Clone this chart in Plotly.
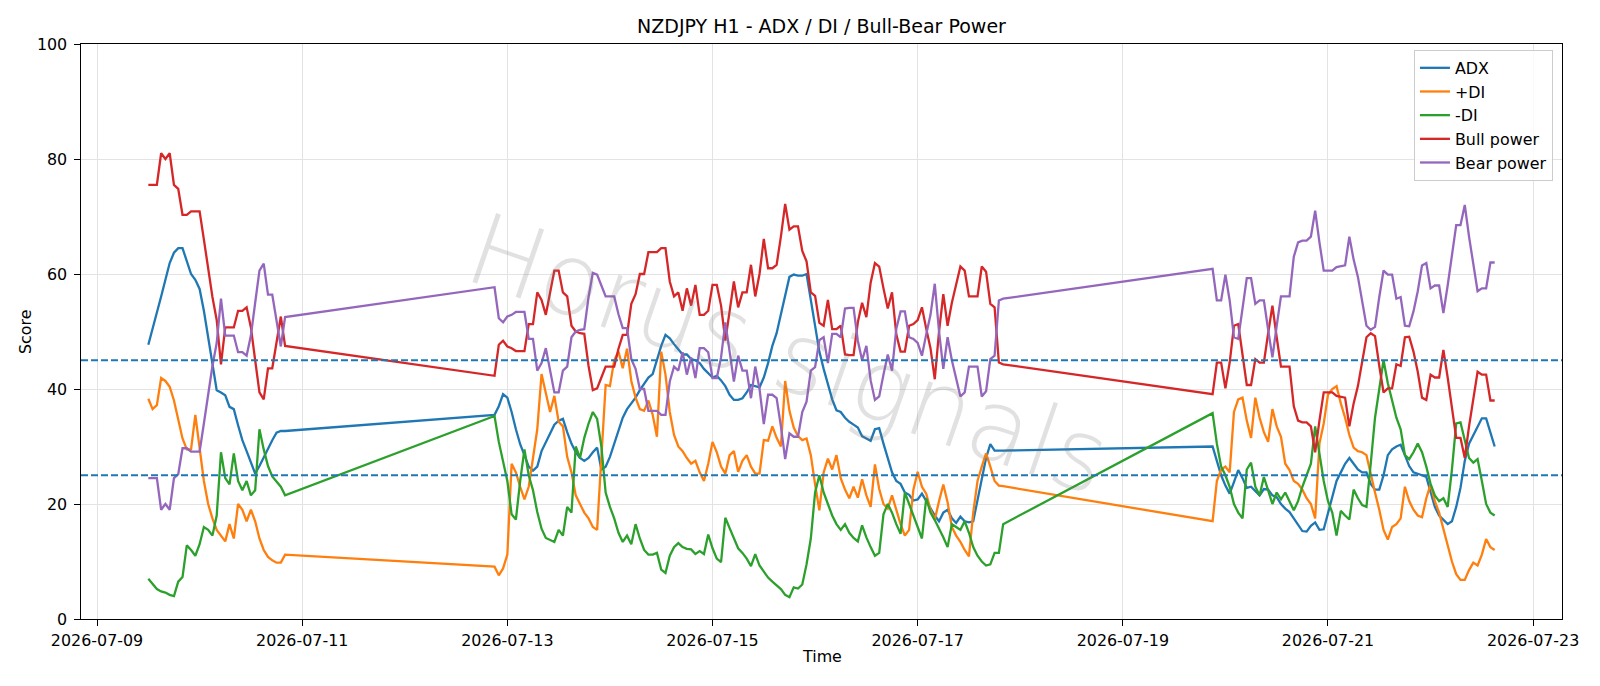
import pandas as pd
import plotly.graph_objects as go

# ---------------- data (hourly, three trading segments) ----------------
SEG1_START = "2026-07-09 12:00"
SEG2_START = "2026-07-12 21:00"
SEG3_START = "2026-07-19 21:00"

adx_1 = [47.7, 50.4, 53.2, 56.1, 59.0, 61.9, 63.7, 64.5, 64.5, 62.2,
         60.0, 59.0, 57.4, 53.6, 49.0, 44.6, 39.8, 39.4, 38.9, 36.9,
         36.5, 33.7, 31.1, 29.2, 27.2, 25.3, 26.6, 28.2, 29.8, 31.1,
         32.4, 32.7, 32.7]
pdi_1 = [38.3, 36.5, 37.2, 41.9, 41.4, 40.4, 38.0, 34.6, 31.4, 29.5,
         29.5, 35.5, 29.5, 24.0, 20.0, 17.5, 15.5, 14.5, 13.5, 16.5,
         14.0, 20.0, 19.0, 17.0, 19.0, 17.0, 14.0, 12.0, 10.8, 10.2,
         9.8, 9.8, 11.2]
mdi_1 = [7.0, 6.0, 5.2, 4.8, 4.6, 4.2, 4.0, 6.5, 7.3, 12.8,
         12.0, 11.0, 13.0, 16.0, 15.5, 14.5, 18.0, 29.0, 24.5, 23.4,
         28.8, 24.0, 22.4, 24.0, 21.5, 22.4, 33.0, 29.5, 26.6, 24.8,
         23.8, 23.0, 21.5]
bull_1 = [75.5, 75.5, 75.5, 81.0, 80.0, 81.0, 75.5, 74.8, 70.3, 70.3,
          70.9, 70.9, 70.9, 66.0, 61.0, 56.0, 52.0, 44.3, 50.7, 50.7,
          50.7, 53.6, 53.6, 54.2, 50.7, 45.0, 39.4, 38.2, 43.6, 43.6,
          48.4, 52.6, 47.5]
bear_1 = [24.5, 24.5, 24.5, 19.0, 20.0, 19.0, 24.5, 25.2, 29.7, 29.7,
          29.1, 29.1, 29.1, 34.0, 39.0, 44.0, 48.0, 55.7, 49.3, 49.3,
          49.3, 46.4, 46.4, 45.8, 49.3, 55.0, 60.6, 61.8, 56.4, 56.4,
          51.6, 47.4, 52.5]

adx_2 = [35.5, 37.0, 39.1, 38.5, 36.0, 33.0, 30.4, 28.5, 26.5, 25.8,
         26.5, 29.2, 30.8, 32.4, 33.8, 34.5, 34.8, 32.5, 30.5, 29.0,
         28.0, 27.5, 28.0, 29.0, 29.8, 26.0, 26.5, 28.2, 30.5, 33.0,
         35.0, 36.5, 37.5, 38.5, 39.8, 41.0, 42.0, 42.6, 45.0, 47.5,
         49.4, 48.8, 47.8, 46.9, 46.0, 46.0, 45.2, 45.0, 44.5, 43.5,
         42.8, 42.0, 42.3, 41.5, 40.5, 39.0, 38.1, 38.1, 38.4, 39.4,
         40.7, 40.5, 40.3, 42.0, 44.5, 47.5, 49.7, 53.0, 56.5, 59.5,
         59.9, 59.7, 59.7, 60.0, 55.5, 51.0, 46.5, 43.5, 40.8, 38.2,
         36.3, 36.0, 35.0, 34.3, 33.8, 33.3, 31.8, 31.4, 31.0, 33.0,
         33.2, 30.5, 27.8, 25.5, 24.0, 23.5, 22.0, 21.6, 20.6, 20.8,
         21.8, 20.5, 19.2, 18.0, 17.0, 18.5, 19.0, 17.5, 16.7, 17.8,
         17.0, 16.8, 17.0, 20.5, 24.5, 28.0, 30.4, 29.3, 29.3, 29.3]
pdi_2 = [9.1, 7.6, 8.8, 11.2, 27.0, 25.5, 23.0, 20.8, 23.0, 28.0,
         33.0, 42.6, 39.5, 36.0, 38.8, 34.3, 33.5, 28.2, 25.5, 21.5,
         20.0, 18.5, 17.5, 16.0, 15.5, 27.5, 40.7, 40.5, 45.0, 46.5,
         43.6, 47.0, 41.4, 38.5, 36.5, 36.2, 38.0, 35.5, 31.7, 46.5,
         42.5, 36.0, 32.0, 30.0, 29.2, 28.0, 27.0, 27.5, 25.5, 24.0,
         27.0, 30.8, 29.0, 26.5, 25.3, 28.5, 29.2, 25.6, 27.5, 28.5,
         26.5, 25.3, 25.3, 31.1, 31.0, 33.5, 31.5, 30.0, 41.4, 36.2,
         33.3, 31.8, 31.1, 31.4, 28.5, 23.4, 18.9, 25.5, 27.9, 26.0,
         28.5, 24.5, 22.5, 21.0, 23.0, 21.1, 24.3, 21.5, 19.5, 26.9,
         22.6, 20.0, 19.2, 21.5, 19.0, 16.5, 14.5, 15.5, 22.5, 25.6,
         23.0, 21.8, 19.0, 17.3, 20.5, 23.4, 20.3, 16.0, 14.5, 13.4,
         12.0, 10.9, 18.5, 24.0, 26.5, 28.8, 26.5, 24.0, 23.2, 23.1]
mdi_2 = [35.3, 30.8, 27.5, 24.0, 18.2, 17.3, 24.0, 29.5, 25.0, 22.4,
         18.6, 15.7, 14.1, 13.8, 13.4, 15.5, 14.5, 19.5, 18.5, 30.0,
         28.0, 31.5, 34.0, 36.0, 34.8, 30.0, 22.0, 19.5, 17.5, 15.0,
         13.4, 14.5, 13.0, 16.5, 14.0, 12.0, 11.2, 11.2, 11.5, 8.6,
         8.0, 11.0, 12.5, 13.2, 12.5, 12.2, 12.1, 11.3, 11.8, 11.3,
         14.7, 12.3, 10.5, 9.9, 17.6, 15.8, 14.0, 12.3, 11.5, 10.5,
         9.2, 11.3, 9.3, 8.2, 7.2, 6.5, 5.8, 5.2, 4.2, 3.8,
         5.5, 5.3, 6.0, 9.5, 14.0, 22.0, 25.0, 22.0, 20.0, 18.0,
         16.5, 15.5, 16.5, 15.0, 14.1, 13.5, 16.3, 14.2, 12.5, 11.0,
         11.5, 18.2, 20.0, 18.5, 16.5, 14.8, 22.0, 20.0, 18.2, 16.0,
         14.0, 21.0, 18.5, 17.2, 15.8, 14.2, 12.5, 16.5, 16.0, 15.5,
         17.0, 15.0, 12.5, 11.0, 10.0, 9.3, 9.5, 11.5, 11.5, 16.5]
bull_2 = [42.3, 47.7, 48.4, 47.4, 47.1, 46.6, 46.6, 46.6, 51.3, 51.3,
          56.8, 55.5, 52.9, 56.8, 60.6, 60.6, 56.8, 56.1, 51.0, 50.0,
          49.7, 49.6, 44.0, 39.8, 40.1, 42.0, 43.9, 43.9, 43.9, 47.0,
          49.4, 49.4, 54.8, 56.5, 60.0, 60.0, 63.8, 63.8, 63.8, 64.5,
          64.5, 58.7, 56.1, 56.8, 53.6, 57.5, 54.5, 58.1, 52.9, 52.9,
          53.6, 58.1, 58.1, 54.5, 48.4, 53.5, 58.7, 54.2, 56.8, 56.8,
          61.6, 56.1, 60.0, 66.1, 61.0, 61.0, 61.6, 66.5, 72.2, 67.7,
          68.3, 68.3, 64.0, 62.2, 56.8, 56.2, 51.5, 51.0, 55.5, 50.4,
          50.4, 51.0, 46.0, 45.9, 45.9, 51.6, 55.0, 52.5, 58.5, 61.9,
          61.3, 57.5, 54.0, 56.8, 49.5, 46.5, 46.5, 51.0, 51.3, 52.0,
          54.2, 50.5, 47.1, 41.7, 50.0, 56.5, 51.0, 55.0, 58.0, 61.3,
          60.6, 56.1, 56.1, 56.1, 61.3, 60.4, 54.8, 54.2, 44.6, 44.3]
bear_2 = [57.7, 52.3, 51.6, 52.6, 52.9, 53.4, 53.4, 53.4, 48.7, 48.7,
          43.2, 44.5, 47.1, 43.2, 39.4, 39.4, 43.2, 43.9, 49.0, 50.0,
          50.3, 50.4, 56.0, 60.2, 59.9, 58.0, 56.1, 56.1, 56.1, 53.0,
          50.6, 50.6, 45.2, 43.5, 40.0, 40.0, 36.2, 36.2, 36.2, 35.5,
          35.5, 41.3, 43.9, 43.2, 46.4, 42.5, 45.5, 41.9, 47.1, 47.1,
          46.4, 41.9, 41.9, 45.5, 51.6, 46.5, 41.3, 45.8, 43.2, 43.2,
          38.4, 43.9, 40.0, 33.9, 39.0, 39.0, 38.4, 33.5, 27.8, 32.3,
          31.7, 31.7, 36.0, 37.8, 43.2, 43.8, 48.5, 49.0, 44.5, 49.6,
          49.6, 49.0, 54.0, 54.1, 54.1, 48.4, 45.0, 47.5, 41.5, 38.1,
          38.7, 42.5, 46.0, 43.2, 50.5, 53.5, 53.5, 49.0, 48.7, 48.0,
          45.8, 49.5, 52.9, 58.3, 50.0, 43.5, 49.0, 45.0, 42.0, 38.7,
          39.4, 43.9, 43.9, 43.9, 38.7, 39.6, 45.2, 45.8, 55.4, 55.7]

adx_3 = [30.0, 27.5, 25.0, 23.2, 21.8, 23.8, 25.9, 24.5, 22.8, 23.0,
         22.2, 21.5, 22.6, 22.5, 21.5, 21.2, 20.0, 19.2, 18.6, 17.5,
         16.2, 15.3, 15.2, 16.2, 16.8, 15.5, 15.6, 18.5, 21.5, 24.0,
         25.5, 27.0, 28.0, 27.0, 26.0, 25.5, 25.5, 23.5, 22.5, 22.5,
         25.0, 28.5, 29.5, 30.0, 30.3, 28.5, 26.6, 25.5, 25.3, 25.0,
         24.7, 22.0, 19.5, 18.0, 17.2, 16.5, 17.0, 19.5, 22.8, 27.5,
         30.5, 32.0, 33.5, 34.9, 34.9, 32.5, 30.0]
pdi_3 = [17.0, 24.0, 26.0, 26.5, 25.5, 36.0, 38.2, 38.5, 34.5, 31.5,
         38.5, 35.0, 32.5, 30.8, 36.5, 33.5, 31.7, 27.0, 25.9, 24.0,
         23.5, 22.5, 21.0, 20.0, 17.5, 30.5, 34.0, 39.0, 40.0, 40.5,
         37.5, 35.0, 32.0, 29.8, 29.2, 29.0, 28.5, 25.0, 22.0, 19.0,
         15.5, 13.8, 16.0, 16.5, 17.5, 23.0, 20.5, 19.0, 18.0, 17.7,
         21.0, 23.4, 20.5, 18.5, 15.5, 12.5, 10.0, 7.8, 6.8, 6.8,
         8.5, 9.8, 9.3, 11.2, 13.9, 12.5, 12.0]
mdi_3 = [35.8, 30.5, 26.5, 25.0, 23.0, 20.0, 18.5, 17.5, 26.0, 27.2,
         23.0, 21.5, 24.7, 22.5, 20.0, 22.0, 20.8, 22.0, 20.5, 18.9,
         20.5, 23.0, 25.0, 27.0, 33.5, 28.5, 24.0, 20.5, 18.5, 14.5,
         18.8, 18.0, 17.3, 22.5, 21.0, 19.8, 19.5, 27.0, 35.0, 40.0,
         45.0, 41.0, 38.0, 35.0, 33.0, 28.5, 27.8, 29.0, 30.5, 29.0,
         26.5, 23.5, 21.5, 20.5, 21.0, 19.5, 26.0, 34.0, 34.2, 31.0,
         28.0, 27.2, 27.8, 24.0, 20.0, 18.5, 18.0]
bull_3 = [39.1, 44.6, 44.6, 40.1, 44.6, 51.0, 51.3, 45.5, 40.7, 40.7,
          45.2, 44.6, 44.6, 49.7, 54.5, 49.0, 43.9, 43.9, 43.9, 37.0,
          34.5, 34.2, 34.2, 33.5, 29.0, 34.5, 39.4, 39.4, 39.4, 38.8,
          38.6, 38.5, 33.5, 37.5, 40.5, 44.5, 49.0, 49.7, 49.2, 44.0,
          39.4, 40.1, 40.1, 44.3, 44.0, 49.0, 49.1, 46.5, 43.0, 38.5,
          38.1, 42.5, 42.0, 42.0, 46.8, 42.0, 37.0, 31.5, 31.5, 28.0,
          33.5, 38.0, 43.0, 42.5, 42.5, 38.0, 38.0]
bear_3 = [60.9, 55.4, 55.4, 59.9, 55.4, 49.0, 48.7, 54.5, 59.3, 59.3,
          54.8, 55.4, 55.4, 50.3, 45.5, 51.0, 56.1, 56.1, 56.1, 63.0,
          65.5, 65.8, 65.8, 66.5, 71.0, 65.5, 60.6, 60.6, 60.6, 61.2,
          61.4, 61.5, 66.5, 62.5, 59.5, 55.5, 51.0, 50.3, 50.8, 56.0,
          60.6, 59.9, 59.9, 55.7, 56.0, 51.0, 50.9, 53.5, 57.0, 61.5,
          61.9, 57.5, 58.0, 58.0, 53.2, 58.0, 63.0, 68.5, 68.5, 72.0,
          66.5, 62.0, 57.0, 57.5, 57.5, 62.0, 62.0]

THRESHOLDS = [45, 25]
X_TICKS = ["2026-07-09", "2026-07-11", "2026-07-13", "2026-07-15",
           "2026-07-17", "2026-07-19", "2026-07-21", "2026-07-23"]

# ---------------- assemble ----------------
times = (list(pd.date_range(SEG1_START, periods=len(adx_1), freq="h")) +
         list(pd.date_range(SEG2_START, periods=len(adx_2), freq="h")) +
         list(pd.date_range(SEG3_START, periods=len(adx_3), freq="h")))

series = [
    ("ADX", adx_1 + adx_2 + adx_3, "#1f77b4"),
    ("+DI", pdi_1 + pdi_2 + pdi_3, "#ff7f0e"),
    ("-DI", mdi_1 + mdi_2 + mdi_3, "#2ca02c"),
    ("Bull power", bull_1 + bull_2 + bull_3, "#d62728"),
    ("Bear power", bear_1 + bear_2 + bear_3, "#9467bd"),
]

FONT = "DejaVu Sans"
fig = go.Figure()
for name, vals, col in series:
    assert len(vals) == len(times), name
    fig.add_trace(go.Scatter(x=times, y=vals, mode="lines", name=name,
                             line=dict(color=col, width=2.3)))

for th in THRESHOLDS:
    fig.add_shape(type="line", xref="paper", x0=0, x1=1, yref="y", y0=th, y1=th,
                  line=dict(color="#1f77b4", width=1.8, dash="7px,3px"), layer="above")

t0, t1 = times[0], times[-1]
pad = (t1 - t0) * 0.05
xr = [t0 - pad, t1 + pad]

axis_common = dict(showline=True, linecolor="black", linewidth=1.2, mirror=True,
                   ticks="outside", ticklen=5.5, tickwidth=1.2, tickcolor="black",
                   showgrid=True, gridcolor="#e3e3e3", gridwidth=1,
                   zeroline=False, tickfont=dict(family=FONT, size=15.9, color="black"))

fig.update_layout(
    width=1600, height=686,
    margin=dict(l=81, r=38, t=44, b=67),
    paper_bgcolor="white", plot_bgcolor="white",
    font=dict(family=FONT, size=15.9, color="black"),
    title=dict(text="NZDJPY H1 - ADX / DI / Bull-Bear Power", x=0.5, xref="paper",
               y=1 - 26 / 686, yref="container", yanchor="middle", xanchor="center",
               font=dict(family=FONT, size=19, color="black")),
    xaxis=dict(type="date", range=xr, tickvals=pd.to_datetime(X_TICKS),
               tickformat="%Y-%m-%d", ticklabelstandoff=1, **axis_common),
    yaxis=dict(range=[0, 100], tickvals=[0, 20, 40, 60, 80, 100],
               ticklabelstandoff=4, **axis_common),
    legend=dict(x=0.9939, y=0.9896, xanchor="right", yanchor="top",
                bgcolor="rgba(255,255,255,0.8)", bordercolor="#cccccc", borderwidth=1,
                font=dict(family=FONT, size=15.9, color="black")),
    showlegend=True,
)

# axis titles
fig.add_annotation(text="Time", xref="paper", yref="paper", x=0.5, y=-(656 - 619) / 575,
                   showarrow=False, yanchor="middle", font=dict(family=FONT, size=15.9))
fig.add_annotation(text="Score", xref="paper", yref="paper", x=-(81 - 25.5) / 1481, y=0.5,
                   showarrow=False, textangle=-90, xanchor="center",
                   font=dict(family=FONT, size=15.9))

# watermark
fig.add_annotation(text="Horus signals", xref="paper", yref="paper", x=0.478, y=0.46,
                   showarrow=False, textangle=19,
                   font=dict(family=FONT, size=100, weight=200,
                             color="rgba(120,120,120,0.22)"))

fig.write_html("out.html")
